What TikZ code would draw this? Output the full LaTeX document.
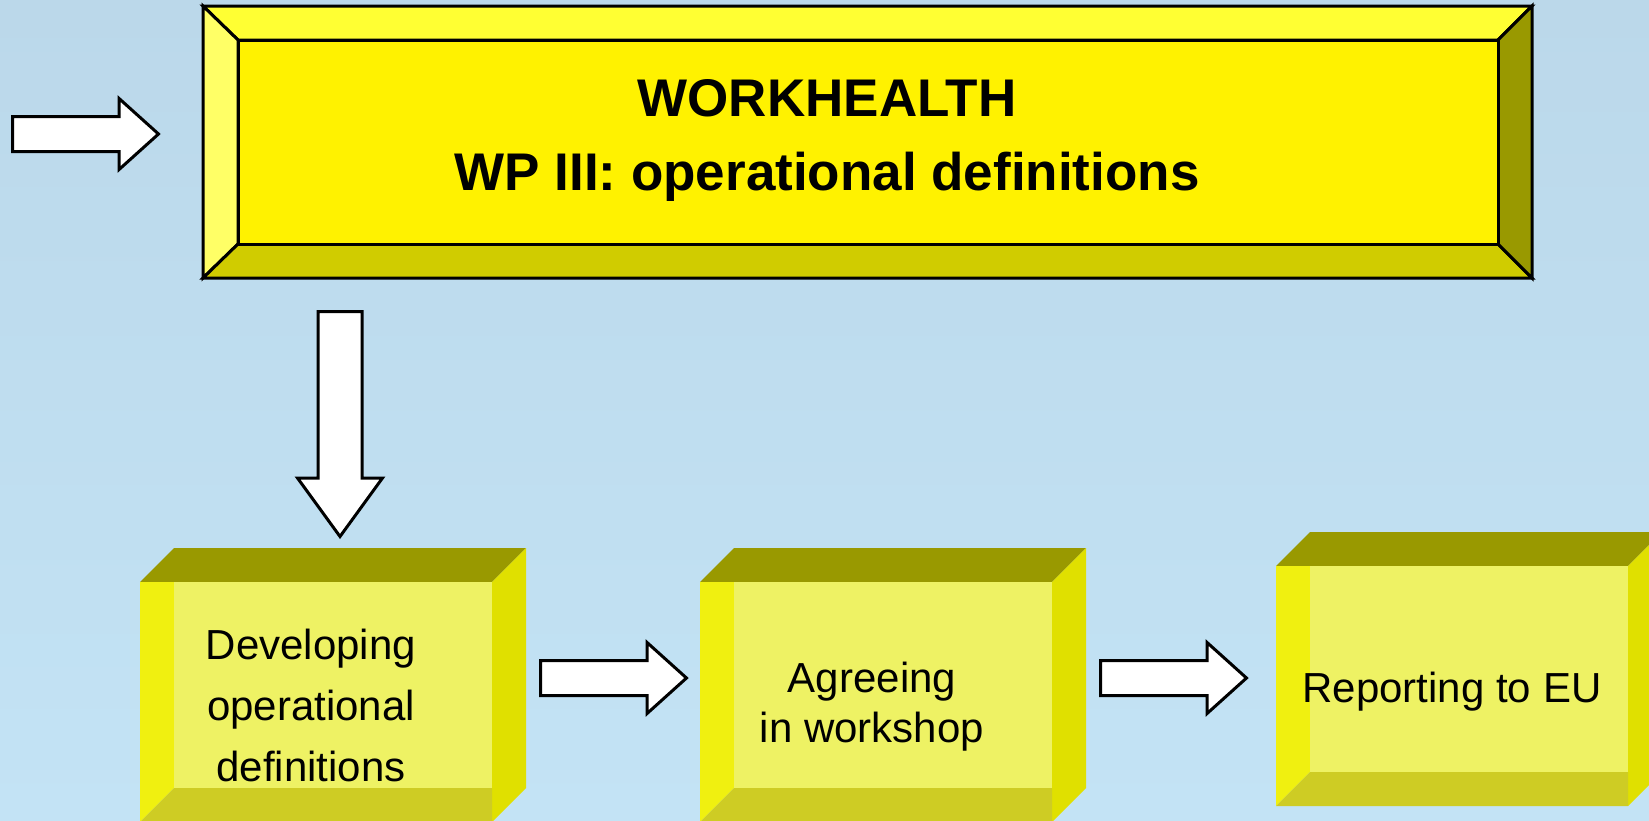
\documentclass[tikz,border=0pt]{standalone}
\usepackage{fontspec}
\setmainfont{Liberation Sans}
\usetikzlibrary{shapes.arrows}

\definecolor{bgtop}{RGB}{187,216,234}
\definecolor{bgmid}{RGB}{203,235,251}
\definecolor{bgbot}{RGB}{195,227,245}
\definecolor{bevtop}{RGB}{255,255,51}
\definecolor{bevleft}{RGB}{255,255,102}
\definecolor{bevbot}{RGB}{208,204,0}
\definecolor{olive}{RGB}{153,153,0}
\definecolor{cubeside}{RGB}{224,224,0}
\definecolor{cubestrip}{RGB}{240,240,16}
\definecolor{cubefront}{RGB}{238,242,100}
\definecolor{cubebase}{RGB}{206,204,36}

\begin{document}
\begin{tikzpicture}[x=1pt,y=-1pt,
    edge/.style={draw=black,line width=3pt},
    blockarrow/.style={single arrow,draw=black,fill=white,line width=3pt,inner xsep=0pt,inner ysep=16pt,
      minimum height=146pt,single arrow head extend=18pt,single arrow tip angle=84,anchor=tail},
    cubetext/.style={inner sep=0pt,align=center,font=\fontsize{42}{61}\selectfont}]
      \clip (0,0) rectangle (1649,820);
      \fill[top color=bgtop,middle color=bgmid,bottom color=bgbot] (0,0) rectangle (1649,820);
      % beveled title box
      \filldraw[edge,fill=bevtop] (203,6) -- (1532,6) -- (1498,40) -- (238,40) -- cycle;
      \filldraw[edge,fill=bevleft] (203,6) -- (238,40) -- (238,244) -- (203,278) -- cycle;
      \filldraw[edge,fill=bevbot] (203,278) -- (238,244) -- (1498,244) -- (1532,278) -- cycle;
      \filldraw[edge,fill=olive] (1532,6) -- (1498,40) -- (1498,244) -- (1532,278) -- cycle;
      \filldraw[edge,fill=yellow] (238,40) rectangle (1498,244);
      \node[inner sep=0pt,align=center,font=\bfseries\fontsize{53}{74}\selectfont] (title) at (827,140)
        {WORKHEALTH\\WP III: operational definitions};
      % the three step blocks
      \foreach \x/\y in {140/582,700/582,1276/566} {
        \fill[olive] (\x,\y) -- (\x+34,\y-34) -- (\x+386,\y-34) -- (\x+352,\y) -- cycle;
        \fill[cubeside] (\x+352,\y) -- (\x+386,\y-34) -- (\x+386,\y+206) -- (\x+352,\y+240) -- cycle;
        \fill[cubestrip] (\x,\y) -- (\x+34,\y) -- (\x+34,\y+206) -- (\x,\y+240) -- cycle;
        \fill[cubebase] (\x,\y+240) -- (\x+34,\y+206) -- (\x+352,\y+206) -- (\x+352,\y+240) -- cycle;
        \fill[cubefront] (\x+34,\y) rectangle (\x+352,\y+206);
      }
      \node[cubetext] (develop) at (311,705) {Developing\\operational\\definitions};
      \node[cubetext,font=\fontsize{42}{50}\selectfont] (agree) at (872,707) {Agreeing\\in workshop};
      \node[cubetext,anchor=base] (report) at (1452,702) {Reporting to EU};
      % block arrows
      \node[blockarrow] (inarrow) at (11,134) {};
      \node[blockarrow,rotate=-90,minimum height=225pt,inner ysep=20.5pt,
        single arrow head extend=20.5pt,single arrow tip angle=72] (downarrow) at (340,310) {};
      \node[blockarrow] (arrowab) at (539,678) {};
      \node[blockarrow] (arrowbc) at (1099,678) {};
\end{tikzpicture}
\end{document}
